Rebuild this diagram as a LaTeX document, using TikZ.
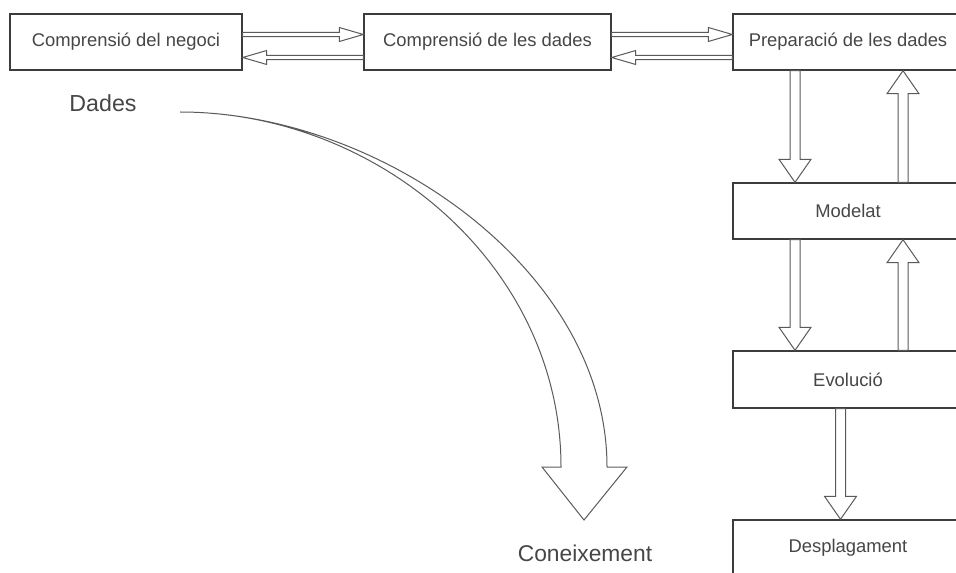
\documentclass[tikz,border=0pt]{standalone}
\usepackage{fontspec}
\setmainfont{Liberation Sans}
\usetikzlibrary{calc}
\definecolor{boxline}{RGB}{60,60,60}
\definecolor{arrowline}{RGB}{90,90,90}
\definecolor{labeltext}{RGB}{70,70,70}
\begin{document}
\begin{tikzpicture}[
        x = .5pt,
        y = -.5pt,
        stage/.style = {draw = boxline, line width = .7pt, fill = white,
            minimum width = 115pt, minimum height = 28pt, inner sep = 0pt,
            text = labeltext, font = \fontsize{9.2}{11}\selectfont},
        blockarrow/.style n args = {3}{draw = arrowline, line width = .5pt, fill = white,
            to path = {let \p1 = ($(\tikztotarget)!#3!(\tikztostart)$) in
                ($(\tikztostart)!#1!90:(\tikztotarget)$)
                -- ($(\p1)!#1!90:(\tikztotarget)$)
                -- ($(\p1)!#2!90:(\tikztotarget)$)
                -- (\tikztotarget)
                -- ($(\p1)!#2!-90:(\tikztotarget)$)
                -- ($(\p1)!#1!-90:(\tikztotarget)$)
                -- ($(\tikztostart)!#1!-90:(\tikztotarget)$)
                -- cycle}},
        harrow/.style = {blockarrow = {1.1pt}{3.5pt}{12pt}},
        varrow/.style = {blockarrow = {2.5pt}{8pt}{11.5pt}},
        bigword/.style = {text = labeltext, inner sep = 0pt}
    ]
        \useasboundingbox (0,0) rectangle (956,572);
        \clip (0,0) rectangle (956,572);

        % stages of the process
        \node[stage, minimum width = 116pt] (negoci) at (126,42) {Comprensió del negoci};
        \node[stage, minimum width = 123.5pt] (dades) at (487.5,42) {Comprensió de les dades};
        \node[stage] (prep) at (848,42) {Preparació de les dades};
        \node[stage] (modelat) at (848,211) {Modelat};
        \node[stage, minimum height = 28.5pt] (evolucio) at (848,379.5) {Evolució};
        \node[stage] (despl) at (848,548) {Desplagament};

        \node[bigword, font = \fontsize{11.6}{14}\selectfont] (dadeslbl) at (103,103) {Dades};
        \node[bigword, font = \fontsize{11.4}{14}\selectfont] (coneix) at (585,553) {Coneixement};

        % back and forth along the top row
        \draw[harrow] ([yshift=3.75pt]negoci.east) to ([yshift=3.75pt]dades.west);
        \draw[harrow] ([yshift=-7.75pt]dades.west) to ([yshift=-7.75pt]negoci.east);
        \draw[harrow] ([yshift=3.75pt]dades.east) to ([yshift=3.75pt]prep.west);
        \draw[harrow] ([yshift=-7.75pt]prep.west) to ([yshift=-7.75pt]dades.east);

        % down the right column
        \draw[varrow] ([xshift=-26.5pt]prep.south) to ([xshift=-26.5pt]modelat.north);
        \draw[varrow] ([xshift=27.5pt]modelat.north) to ([xshift=27.5pt]prep.south);
        \draw[varrow] ([xshift=-26.5pt]modelat.south) to ([xshift=-26.5pt]evolucio.north);
        \draw[varrow] ([xshift=27.5pt]evolucio.north) to ([xshift=27.5pt]modelat.south);
        \draw[varrow] ([xshift=-3.75pt]evolucio.south) to ([xshift=-3.75pt]despl.north);

        % from data to knowledge
        \coordinate (bend) at (180,112);
        \draw[draw = arrowline, line width = .5pt] (bend)
            .. controls (380,112) and (561,267) .. (561,467)
            -- (542,467) -- (584,520) -- (627,467) -- (607,467)
            .. controls (607,270) and (380,112) .. (bend) -- cycle;
    \end{tikzpicture}
\end{document}
